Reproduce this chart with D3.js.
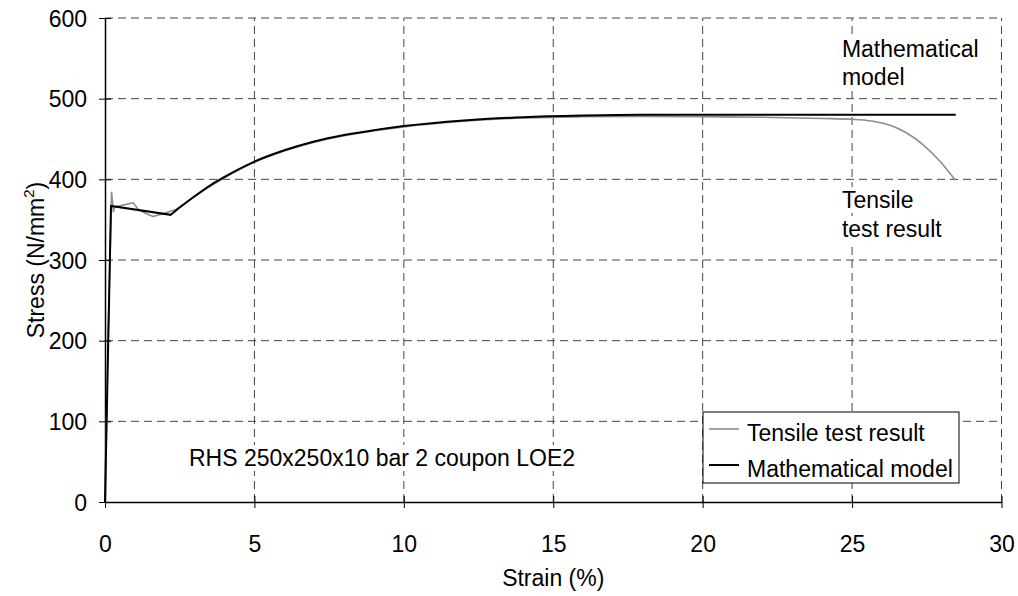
<!DOCTYPE html>
<html>
<head>
<meta charset="utf-8">
<script src="https://cdn.jsdelivr.net/npm/d3@7"></script>
<style>
  body { margin: 0; background: #fff; }
  svg { font-family: "Liberation Sans", Arial, sans-serif; }
</style>
</head>
<body>
<div id="chart"></div>
<script>
// tensile test result (strain %, stress N/mm2)
const testStrain = [0, 0.1, 0.22, 0.28, 0.33, 0.6, 0.94, 1.11, 1.4, 1.61, 2.0, 2.39, 2.7, 3.0, 3.5, 4.0, 5, 6, 7, 8, 10, 12, 14, 16, 18, 20, 22, 24, 25, 25.7, 26.27, 26.8, 27.39, 27.95, 28.45];
const testStress = [0, 200, 384, 360, 366, 368, 371, 363, 357, 354, 358, 363, 371, 379, 391, 402, 421, 435, 446, 454, 465, 472, 476, 477.5, 478, 477.5, 477, 475.5, 474.5, 472, 467, 458, 442.5, 422, 399];

// mathematical model
const modelStrain = [0, 0.2, 2.2, 2.5, 3.0, 3.5, 4.0, 4.5, 5, 6, 7, 8, 9, 10, 12, 14, 16, 18, 20, 28.47];
const modelStress = [0, 367, 356, 365, 379, 392, 403, 413, 422, 436, 447, 455, 461, 466, 473, 477, 479, 480, 480, 480];

const xTicks = [0, 5, 10, 15, 20, 25, 30];
const yTicks = [0, 100, 200, 300, 400, 500, 600];

const W = 1018, H = 596;
const m = { left: 105, right: 16.5, top: 18, bottom: 94 };
const fs = "23px";

const svg = d3.select("#chart").append("svg")
    .attr("width", W)
    .attr("height", H);

const x = d3.scaleLinear().domain([0, 30]).range([m.left, W - m.right]);
const y = d3.scaleLinear().domain([0, 600]).range([H - m.bottom, m.top]);

// grid
const grid = svg.append("g").attr("stroke", "#444").attr("stroke-width", 1).attr("stroke-dasharray", "8,5");
grid.selectAll(".vg").data(xTicks.slice(1)).enter().append("line")
    .attr("x1", d => x(d)).attr("x2", d => x(d))
    .attr("y1", y(0)).attr("y2", y(600));
grid.selectAll(".hg").data(yTicks.slice(1)).enter().append("line")
    .attr("x1", x(0)).attr("x2", x(30))
    .attr("y1", d => y(d)).attr("y2", d => y(d));

// axes
const xAxis = svg.append("g")
    .attr("transform", `translate(0,${y(0)})`)
    .call(d3.axisBottom(x).tickValues(xTicks).tickSize(6).tickSizeOuter(0));
xAxis.selectAll(".tick line").attr("y1", -6).attr("y2", 6);
xAxis.selectAll(".tick text").attr("dy", 0).attr("y", 50).style("font-size", fs);

const yAxis = svg.append("g")
    .attr("transform", `translate(${x(0)},0)`)
    .call(d3.axisLeft(y).tickValues(yTicks).tickSize(6).tickSizeOuter(0));
yAxis.selectAll(".tick line").attr("x1", -6).attr("x2", 6);
yAxis.selectAll(".tick text").attr("x", -18).attr("dy", "0.35em").style("font-size", fs);

svg.selectAll(".domain").attr("stroke", "#000").attr("stroke-width", 1.5);
svg.selectAll(".tick line").attr("stroke", "#000");
svg.selectAll(".tick text").attr("fill", "#000");
svg.selectAll("g").attr("font-family", null);

// axis titles
svg.append("text")
    .attr("x", x(15)).attr("y", 586)
    .attr("text-anchor", "middle").style("font-size", fs)
    .text("Strain (%)");

const yt = svg.append("text")
    .attr("transform", `translate(44,${y(300)}) rotate(-90)`)
    .attr("text-anchor", "middle").style("font-size", fs);
yt.append("tspan").text("Stress (N/mm");
yt.append("tspan").attr("dy", -10).style("font-size", "15px").text("2");
yt.append("tspan").attr("dy", 10).text(")");

// lines
const curve = d3.line().x(d => x(d[0])).y(d => y(d[1])).curve(d3.curveMonotoneX);
const straight = d3.line().x(d => x(d[0])).y(d => y(d[1]));

const testData = testStrain.map((s, i) => [s, testStress[i]]);
const modelData = modelStrain.map((s, i) => [s, modelStress[i]]);

svg.append("path")
    .attr("fill", "none").attr("stroke", "#8c8c8c").attr("stroke-width", 1.6)
    .attr("stroke-linejoin", "round")
    .attr("d", straight(testData.slice(0, 12)) + curve(testData.slice(11)).replace(/^M/, "L"));

svg.append("path")
    .attr("fill", "none").attr("stroke", "#000").attr("stroke-width", 2)
    .attr("d", straight(modelData.slice(0, 3)) + curve(modelData.slice(2)).replace(/^M/, "L"));

// annotations (white box behind text hides the grid)
const ann = [
  { t: "Mathematical", sx: 24.66, y: 57 },
  { t: "model", sx: 24.66, y: 85 },
  { t: "Tensile", sx: 24.66, y: 208 },
  { t: "test result", sx: 24.66, y: 237 },
  { t: "RHS 250x250x10 bar 2 coupon LOE2", sx: 2.81, y: 466 }
];
const annG = svg.append("g");
ann.forEach(d => {
  const g = annG.append("g");
  const t = g.append("text").attr("x", x(d.sx)).attr("y", d.y)
      .style("font-size", fs).text(d.t);
  const b = t.node().getBBox();
  g.insert("rect", "text").attr("x", b.x - 2).attr("y", b.y)
      .attr("width", b.width + 4).attr("height", b.height).attr("fill", "#fff");
});

// legend
const lg = svg.append("g");
lg.append("rect").attr("x", 703).attr("y", 412).attr("width", 256).attr("height", 71)
    .attr("fill", "#fff").attr("stroke", "#000").attr("stroke-width", 1);
const legendItems = [
  { name: "Tensile test result", color: "#8c8c8c", w: 1.6 },
  { name: "Mathematical model", color: "#000", w: 2 }
];
legendItems.forEach((d, i) => {
  const yy = 429 + i * 36;
  lg.append("line").attr("x1", 709).attr("x2", 739).attr("y1", yy).attr("y2", yy)
      .attr("stroke", d.color).attr("stroke-width", d.w);
  lg.append("text").attr("x", 747).attr("y", yy + 12)
      .style("font-size", fs).text(d.name);
});
</script>
</body>
</html>
